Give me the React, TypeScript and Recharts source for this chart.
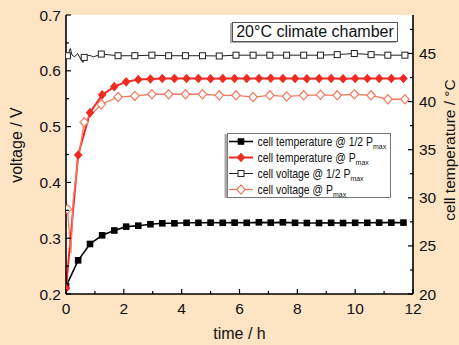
import React from 'react';
import { LineChart, Line, XAxis, YAxis, CartesianGrid } from 'recharts';

// filled markers every 25 min, open markers every 35 min
const tempTimes = [0, 0.42, 0.83, 1.25, 1.67, 2.08, 2.5, 2.92, 3.33, 3.75, 4.17, 4.58, 5, 5.42, 5.83, 6.25, 6.67, 7.08, 7.5, 7.92, 8.33, 8.75, 9.17, 9.58, 10, 10.42, 10.83, 11.25, 11.67];
const tempHalf = [20.8, 23.5, 25.2, 26.1, 26.6, 27.0, 27.1, 27.25, 27.35, 27.35, 27.4, 27.4, 27.42, 27.4, 27.42, 27.4, 27.45, 27.42, 27.45, 27.4, 27.38, 27.38, 27.4, 27.38, 27.4, 27.4, 27.42, 27.42, 27.42];
const tempFull = [20.6, 34.45, 38.85, 40.7, 41.55, 42.05, 42.3, 42.35, 42.4, 42.4, 42.4, 42.4, 42.38, 42.4, 42.4, 42.4, 42.4, 42.42, 42.4, 42.4, 42.38, 42.4, 42.4, 42.38, 42.4, 42.4, 42.4, 42.4, 42.4];

const voltTimes = [0.05, 0.63, 1.22, 1.8, 2.38, 2.97, 3.55, 4.13, 4.72, 5.3, 5.88, 6.47, 7.05, 7.63, 8.22, 8.8, 9.38, 9.97, 10.55, 11.13, 11.72];
const voltHalf = [0.627, 0.624, 0.63, 0.627, 0.627, 0.628, 0.627, 0.627, 0.627, 0.6265, 0.628, 0.628, 0.628, 0.628, 0.628, 0.628, 0.629, 0.631, 0.629, 0.628, 0.628];
const voltFull = [0.352, 0.508, 0.54, 0.553, 0.555, 0.558, 0.558, 0.558, 0.558, 0.556, 0.556, 0.553, 0.556, 0.554, 0.556, 0.557, 0.556, 0.558, 0.556, 0.549, 0.549];

// unmarked samples in the start-up transient
const voltHalfExtraT = [0, 0.15, 0.21, 0.3, 0.4, 0.51, 0.59, 0.8, 0.95];
const voltHalfExtraV = [0.63, 0.64, 0.628, 0.625, 0.631, 0.621, 0.615, 0.628, 0.625];
const voltFullExtraT = [0.17, 0.25, 0.37];
const voltFullExtraV = [0.273, 0.368, 0.422];

const xTicks = [0, 1, 2, 3, 4, 5, 6, 7, 8, 9, 10, 11, 12];
const vTicks = [0.2, 0.25, 0.3, 0.35, 0.4, 0.45, 0.5, 0.55, 0.6, 0.65, 0.7];
const tTicks = [20, 22.5, 25, 27.5, 30, 32.5, 35, 37.5, 40, 42.5, 45, 47.5];

const BG = '#FCE4C4';
const RED = '#EE2B22';
const SALMON = '#F37A5E';
const FONT = '"Liberation Sans", Arial, Helvetica, sans-serif';

const build = (ts: number[], vs: number[], et: number[] = [], ev: number[] = []) =>
  ts.map((t, i) => ({ t, v: vs[i], m: true }))
    .concat(et.map((t, i) => ({ t, v: ev[i], m: false })))
    .sort((a, b) => a.t - b.t);

const s1 = build(tempTimes, tempHalf);
const s2 = build(tempTimes, tempFull);
const s3 = build(voltTimes, voltHalf, voltHalfExtraT, voltHalfExtraV);
const s4 = build(voltTimes, voltFull, voltFullExtraT, voltFullExtraV);

type Kind = 'sq' | 'dia' | 'osq' | 'odia';

const Marker = ({ kind, cx, cy }: { kind: Kind; cx: number; cy: number }) => {
  if (kind === 'sq') return <rect x={cx - 3.3} y={cy - 3.3} width={6.6} height={6.6} fill="#000" />;
  if (kind === 'dia')
    return <polygon points={`${cx},${cy - 4.8} ${cx + 4.3},${cy} ${cx},${cy + 4.8} ${cx - 4.3},${cy}`} fill={RED} />;
  if (kind === 'osq')
    return <rect x={cx - 3} y={cy - 3} width={6} height={6} fill="#fff" stroke="#222" strokeWidth={1} />;
  return (
    <polygon points={`${cx},${cy - 4.6} ${cx + 4.2},${cy} ${cx},${cy + 4.6} ${cx - 4.2},${cy}`}
      fill="#fff" stroke={SALMON} strokeWidth={1.2} />
  );
};

const dotFor = (kind: Kind) => (p: any) => {
  const key = `${kind}-${p.index}`;
  if (!p.payload || !p.payload.m || p.cx == null) return <g key={key} />;
  return <g key={key}><Marker kind={kind} cx={p.cx} cy={p.cy} /></g>;
};

const tickText = { fontSize: 15.5, fontFamily: FONT, fill: '#111' };

const LeftTick = (p: any) => {
  const v = p.payload.value;
  const major = Math.round(v * 100) % 10 === 0;
  return (
    <g>
      <line x1={p.x} x2={p.x + (major ? 5 : 3)} y1={p.y} y2={p.y} stroke="#000" strokeWidth={1.2} />
      {major && <text x={p.x - 5} y={p.y + 5.5} textAnchor="end" {...tickText}>{v.toFixed(1)}</text>}
    </g>
  );
};

const RightTick = (p: any) => {
  const v = p.payload.value;
  const major = v % 5 === 0;
  return (
    <g>
      <line x1={p.x} x2={p.x - (major ? 5 : 3)} y1={p.y} y2={p.y} stroke="#000" strokeWidth={1.2} />
      {major && <text x={p.x + 6} y={p.y + 5.5} textAnchor="start" {...tickText}>{v}</text>}
    </g>
  );
};

const BottomTick = (p: any) => {
  const v = p.payload.value;
  const major = v % 2 === 0;
  return (
    <g>
      <line x1={p.x} x2={p.x} y1={p.y} y2={p.y - (major ? 5 : 3)} stroke="#000" strokeWidth={1.2} />
      {major && <text x={p.x} y={p.y + 20} textAnchor="middle" {...tickText}>{v}</text>}
    </g>
  );
};

const TopTick = (p: any) => {
  const major = p.payload.value % 2 === 0;
  return <line x1={p.x} x2={p.x} y1={p.y} y2={p.y + (major ? 5 : 3)} stroke="#000" strokeWidth={1.2} />;
};

const legendRows: { kind: Kind; color: string; width: number; label: string }[] = [
  { kind: 'sq', color: '#000', width: 1.6, label: 'cell temperature @ 1/2 P' },
  { kind: 'dia', color: RED, width: 2, label: 'cell temperature @ P' },
  { kind: 'osq', color: '#222', width: 1, label: 'cell voltage @ 1/2 P' },
  { kind: 'odia', color: SALMON, width: 1.3, label: 'cell voltage @ P' },
];

const LegendBox = () => (
  <svg width={170} height={72} style={{ position: 'absolute', left: 224, top: 130 }}>
    <rect x={0.5} y={4} width={163} height={64} fill="#a8a8a8" />
    <rect x={3.5} y={3.5} width={163} height={64} fill="#fff" stroke="#777" strokeWidth={1} />
    {legendRows.map((r, i) => {
      const cy = 11.5 + i * 16;
      return (
        <g key={r.label}>
          <line x1={5} x2={29} y1={cy} y2={cy} stroke={r.color} strokeWidth={r.width} />
          <Marker kind={r.kind} cx={17} cy={cy} />
          <text transform={`translate(33.5 ${cy + 4.2}) scale(0.87 1)`} fontSize={12} fontFamily={FONT} fill="#111">
            {r.label}
            <tspan fontSize={8} dy={3}>max</tspan>
          </text>
        </g>
      );
    })}
  </svg>
);

const title: React.CSSProperties = {
  position: 'absolute', whiteSpace: 'nowrap', fontFamily: FONT, color: '#111', lineHeight: 1,
};

export default function App() {
  return (
    <div style={{ position: 'fixed', left: 0, top: 0, width: 459, height: 345, background: BG, overflow: 'hidden' }}>
      <LineChart width={459} height={345} margin={{ top: 15, right: 0, bottom: 0, left: 0 }}>
        <CartesianGrid xAxisId="b" yAxisId="v" horizontal={false} vertical={false} fill="#fff" />
        <XAxis xAxisId="b" dataKey="t" type="number" domain={[0, 12]} ticks={xTicks} interval={0}
          allowDataOverflow height={51} tickSize={0} tickMargin={0} tickLine={false}
          axisLine={{ stroke: '#000', strokeWidth: 1.6 }} tick={BottomTick} />
        <XAxis xAxisId="top" orientation="top" type="number" domain={[0, 12]} ticks={xTicks} interval={0}
          allowDataOverflow height={0} tickSize={0} tickMargin={0} tickLine={false}
          axisLine={{ stroke: '#000', strokeWidth: 1.6 }} tick={TopTick} />
        <YAxis yAxisId="v" type="number" domain={[0.2, 0.7]} ticks={vTicks} interval={0} allowDataOverflow
          width={66} tickSize={0} tickMargin={0} tickLine={false}
          axisLine={{ stroke: '#000', strokeWidth: 1.6 }} tick={LeftTick} />
        <YAxis yAxisId="T" orientation="right" type="number" domain={[20, 49]} ticks={tTicks} interval={0}
          allowDataOverflow width={46} tickSize={0} tickMargin={0} tickLine={false}
          axisLine={{ stroke: '#000', strokeWidth: 1.6 }} tick={RightTick} />
        <Line data={s1} xAxisId="b" yAxisId="T" dataKey="v" type="linear" stroke="#000" strokeWidth={1.6}
          dot={dotFor('sq')} activeDot={false} isAnimationActive={false} />
        <Line data={s2} xAxisId="b" yAxisId="T" dataKey="v" type="linear" stroke={RED} strokeWidth={2}
          dot={dotFor('dia')} activeDot={false} isAnimationActive={false} />
        <Line data={s3} xAxisId="b" yAxisId="v" dataKey="v" type="linear" stroke="#222" strokeWidth={1}
          dot={dotFor('osq')} activeDot={false} isAnimationActive={false} />
        <Line data={s4} xAxisId="b" yAxisId="v" dataKey="v" type="linear" stroke={SALMON} strokeWidth={1.3}
          dot={dotFor('odia')} activeDot={false} isAnimationActive={false} />
      </LineChart>

      <div style={{
        position: 'absolute', left: 232, top: 22, width: 166, height: 20, boxSizing: 'border-box',
        background: '#fff', border: '1px solid #555', boxShadow: '-2px 1px 0 #aaa',
        fontFamily: FONT, fontSize: 16, color: '#111', textAlign: 'center', lineHeight: '18px',
      }}>
        20°C climate chamber
      </div>

      <LegendBox />

      <div style={{ ...title, fontSize: 16, left: 16.5, top: 145, transform: 'translate(-50%, -50%) rotate(-90deg)' }}>
        voltage / V
      </div>
      <div style={{ ...title, fontSize: 15.5, left: 450, top: 150, transform: 'translate(-50%, -50%) rotate(-90deg)' }}>
        cell temperature / °C
      </div>
      <div style={{ ...title, fontSize: 16, left: 239.5, top: 334, transform: 'translate(-50%, -50%)' }}>
        time / h
      </div>
    </div>
  );
}
